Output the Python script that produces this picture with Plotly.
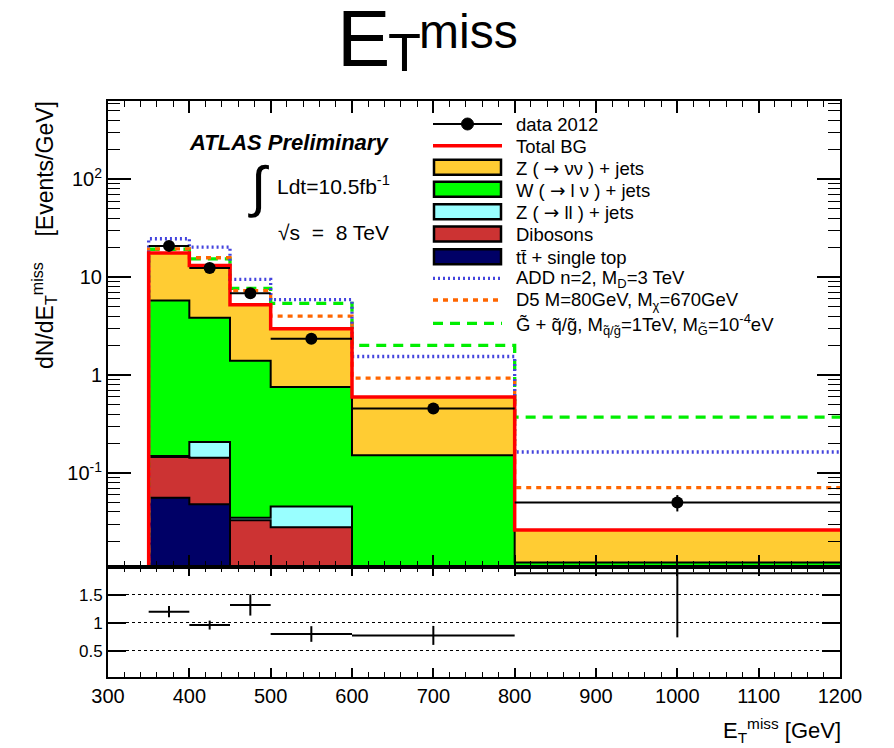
import plotly.graph_objects as go
import numpy as np

# ---------------- data ----------------
edges = [350, 400, 450, 500, 600, 800, 1200]
ttbar = [0.056, 0.048, 0.006, 0.003, 0.001, 0.0002]
dibosons = [0.090, 0.095, 0.027, 0.025, 0.007, 0.002]
z_ll = [0.003, 0.064, 0.002, 0.0176, 0.002, 0.0005]
w_lnu = [5.63, 3.64, 1.37, 0.71, 0.142, 0.0095]
z_nunu = [11.9, 9.35, 3.82, 2.22, 0.445, 0.014]

data_vals = [20.9, 12.4, 6.87, 2.35, 0.457, 0.050]
data_err = [0.6, 0.5, 0.35, 0.15, 0.045, 0.0095]

add_vals = [24.7, 20.3, 9.5, 5.9, 1.55, 0.164]
d5_vals = [19.5, 15.8, 7.3, 4.0, 0.93, 0.071]
gmsb_vals = [19.3, 15.4, 7.7, 5.4, 2.01, 0.373]

ratio_vals = [1.20, 0.96, 1.32, 0.80, 0.775, 1.89]
ratio_err = [0.10, 0.08, 0.19, 0.14, 0.17, 1.15]

x_ticks = [300, 400, 500, 600, 700, 800, 900, 1000, 1100, 1200]
y_ticks = [0.1, 1, 10, 100]
y_ticktext = ["10<sup>-1</sup>", "1", "10", "10<sup>2</sup>"]
ratio_ticks = [0.5, 1, 1.5]

ARROW = "<span style='font-family:DejaVu Sans'>\u2192</span>"
legend_labels = [
    "data 2012",
    "Total BG",
    "Z ( " + ARROW + " \u03bd\u03bd ) + jets",
    "W ( " + ARROW + " l \u03bd ) + jets",
    "Z ( " + ARROW + " ll ) + jets",
    "Dibosons",
    "tt\u0304 + single top",
    "ADD n=2, M<sub>D</sub>=3 TeV",
    "D5 M=80GeV, M<sub>\u03c7</sub>=670GeV",
    "G\u0303 + q\u0303/g\u0303, M<sub>q\u0303/g\u0303</sub>=1TeV, M<sub>G\u0303</sub>=10<sup>-4</sup>eV",
]

# ---------------- colours / styles ----------------
C_ZNN = "#FFCC33"
C_W = "#00FF00"
C_ZLL = "#99FFFF"
C_DIB = "#CC3333"
C_TT = "#000066"
C_TOT = "#FF0000"
C_ADD = "#4444DD"
C_D5 = "#FF6600"
C_G = "#00EE00"
FONT = "Liberation Sans, Arial, Helvetica, sans-serif"

# ---------------- geometry helpers (screen pixel -> paper) ----------------
OFF = 8  # page body margin
W, H = 894 - OFF, 748 - OFF
L, R, T, B = 108, 840, 101, 677  # plot area in screen pixels
SPLIT = 567


def px(x):
    return (x - L) / (R - L)


def py(y):
    return (B - y) / (B - T)


edges_a = np.array(edges, dtype=float)
centers = (edges_a[:-1] + edges_a[1:]) / 2
widths = edges_a[1:] - edges_a[:-1]
half = widths / 2

comps = [ttbar, dibosons, z_ll, w_lnu, z_nunu]
cum = np.cumsum(np.array(comps), axis=0)  # cumulative levels
total_bg = cum[-1]


def step_xy(vals):
    xs = [edges[0]] + list(edges)
    ys = [1e-6] + list(vals) + [vals[-1]]
    return xs, ys


fig = go.Figure()

# stacked fills (top level first)
fill_cols = [C_TT, C_DIB, C_ZLL, C_W, C_ZNN]
for i in range(4, -1, -1):
    fig.add_trace(go.Bar(x=centers, y=cum[i], width=widths,
                         marker=dict(color=fill_cols[i], line=dict(width=0)),
                         showlegend=False, xaxis="x", yaxis="y"))

# black outlines of each layer
for i in range(5):
    xs, ys = step_xy(cum[i])
    fig.add_trace(go.Scatter(x=xs, y=ys, mode="lines", line=dict(color="black", width=2, shape="hv"),
                             showlegend=False, xaxis="x", yaxis="y"))

# signals
for vals, col, dash in [(gmsb_vals, C_G, "10px,7px"), (d5_vals, C_D5, "5px,5px"), (add_vals, C_ADD, "2px,3px")]:
    xs, ys = step_xy(vals)
    fig.add_trace(go.Scatter(x=xs, y=ys, mode="lines", line=dict(color=col, width=3.3, dash=dash, shape="hv"),
                             showlegend=False, xaxis="x", yaxis="y"))

# total BG
xs, ys = step_xy(total_bg)
fig.add_trace(go.Scatter(x=xs, y=ys, mode="lines", line=dict(color=C_TOT, width=3.5, shape="hv"),
                         showlegend=False, xaxis="x", yaxis="y"))

# data
fig.add_trace(go.Scatter(x=centers, y=data_vals, mode="markers",
                         marker=dict(color="black", size=12, symbol="circle"),
                         error_x=dict(type="data", array=half, width=0, thickness=2, color="black"),
                         error_y=dict(type="data", array=data_err, width=0, thickness=2, color="black"),
                         showlegend=False, xaxis="x", yaxis="y"))

# ratio
fig.add_trace(go.Scatter(x=centers, y=ratio_vals, mode="markers",
                         marker=dict(color="black", size=1),
                         error_x=dict(type="data", array=half, width=0, thickness=2, color="black"),
                         error_y=dict(type="data", array=ratio_err, width=0, thickness=2, color="black"),
                         showlegend=False, xaxis="x2", yaxis="y2", cliponaxis=True))

ydom_split = py(SPLIT)

minor_log = [m * 10.0 ** e for e in range(-2, 3) for m in range(2, 10) if 0.011 <= m * 10.0 ** e <= 620]

fig.update_layout(
    width=W, height=H,
    margin=dict(l=L - OFF, r=W - (R - OFF), t=T - OFF, b=H - (B - OFF), pad=0),
    paper_bgcolor="white", plot_bgcolor="white",
    barmode="overlay", bargap=0,
    font=dict(family=FONT, color="black", size=19),
    showlegend=False,
    xaxis=dict(domain=[0, 1], range=[300, 1200], anchor="y", showticklabels=False,
               tickmode="array", tickvals=x_ticks, ticks="inside", ticklen=12, tickwidth=1.5, tickcolor="black",
               minor=dict(ticks="inside", ticklen=6, dtick=20, tick0=300, tickwidth=1.2, tickcolor="black"),
               showline=True, linecolor="black", linewidth=2, mirror="ticks", showgrid=False, zeroline=False),
    yaxis=dict(domain=[ydom_split, 1], type="log", range=[-1.96, 2.8], anchor="x",
               tickmode="array", tickvals=y_ticks, ticktext=y_ticktext,
               ticks="inside", ticklen=23, tickwidth=1.5, tickcolor="black",
               minor=dict(ticks="inside", ticklen=12, tickmode="array", tickvals=minor_log, tickwidth=1.2,
                          tickcolor="black"),
               showline=True, linecolor="black", linewidth=2, mirror="ticks", showgrid=False, zeroline=False,
               tickfont=dict(size=20)),
    xaxis2=dict(domain=[0, 1], range=[300, 1200], anchor="y2",
                tickmode="array", tickvals=x_ticks, ticks="inside", ticklen=9, tickwidth=1.5, tickcolor="black",
                minor=dict(ticks="inside", ticklen=5, dtick=20, tick0=300, tickwidth=1.2, tickcolor="black"),
                showline=True, linecolor="black", linewidth=2, mirror="ticks", showgrid=False, zeroline=False,
                tickfont=dict(size=20)),
    yaxis2=dict(domain=[0, ydom_split], range=[0.03, 2.0], anchor="x2",
                tickmode="array", tickvals=ratio_ticks, ticktext=["0.5", "1", "1.5"],
                ticks="inside", ticklen=18, tickwidth=1.5, tickcolor="black",
                showline=True, linecolor="black", linewidth=2, mirror="ticks",
                showgrid=True, gridcolor="black", gridwidth=1, griddash="dot", zeroline=False,
                tickfont=dict(size=17)),
)

ann = []
shapes = []


def add_text(x, y, text, size, xanchor="left", yanchor="middle", angle=0):
    ann.append(dict(x=px(x), y=py(y), xref="paper", yref="paper", text=text, showarrow=False,
                    xanchor=xanchor, yanchor=yanchor, textangle=angle,
                    font=dict(family=FONT, size=size, color="black")))


# title pieces
add_text(335, 38, "E", 80)
add_text(386, 52, "T", 54)
add_text(417, 31, "miss", 48)

# ATLAS labels
add_text(391, 143, "<b><i>ATLAS Preliminary</i></b>", 22, xanchor="right")
add_text(258, 186, "\u222b", 56, xanchor="center")
add_text(392, 185, "Ldt=10.5fb<sup>-1</sup>", 21, xanchor="right")
add_text(391, 232, "\u221as  =  8 TeV", 21, xanchor="right")

# axis titles
add_text(44, 99, "dN/dE<sub>T</sub><sup>miss</sup>    [Events/GeV]", 23, xanchor="center", yanchor="top", angle=-90)
add_text(843, 730, "E<sub>T</sub><sup>miss</sup> [GeV]", 22, xanchor="right")

# legend
rows = [124, 145.7, 167.3, 189.3, 211.7, 234, 256.7, 278.3, 300, 323.3]
sx0, sx1 = 433, 502
for lab, yy in zip(legend_labels, rows):
    add_text(514, yy + 1, lab, 18.5)

# data entry
shapes.append(dict(type="line", xref="paper", yref="paper", x0=px(sx0), x1=px(sx1), y0=py(rows[0]), y1=py(rows[0]),
                   line=dict(color="black", width=2)))
shapes.append(dict(type="circle", xref="paper", yref="paper", x0=px(467.5 - 6), x1=px(467.5 + 6),
                   y0=py(rows[0] + 6), y1=py(rows[0] - 6), fillcolor="black", line=dict(color="black", width=1)))
# total BG
shapes.append(dict(type="line", xref="paper", yref="paper", x0=px(sx0), x1=px(sx1), y0=py(rows[1]), y1=py(rows[1]),
                   line=dict(color=C_TOT, width=3.5)))
# boxes
for col, yy in zip([C_ZNN, C_W, C_ZLL, C_DIB, C_TT], rows[2:7]):
    shapes.append(dict(type="rect", xref="paper", yref="paper", x0=px(sx0 + 1), x1=px(sx1 - 1),
                       y0=py(yy + 7.5), y1=py(yy - 7.5), fillcolor=col, line=dict(color="black", width=2.5)))
# signal lines
for col, dash, yy in [(C_ADD, "2px,3px", rows[7]), (C_D5, "5px,5px", rows[8]), (C_G, "10px,7px", rows[9])]:
    shapes.append(dict(type="line", xref="paper", yref="paper", x0=px(sx0), x1=px(sx1), y0=py(yy), y1=py(yy),
                       line=dict(color=col, width=3.3, dash=dash)))

fig.update_layout(annotations=ann, shapes=shapes)

fig.write_html("out.html")
